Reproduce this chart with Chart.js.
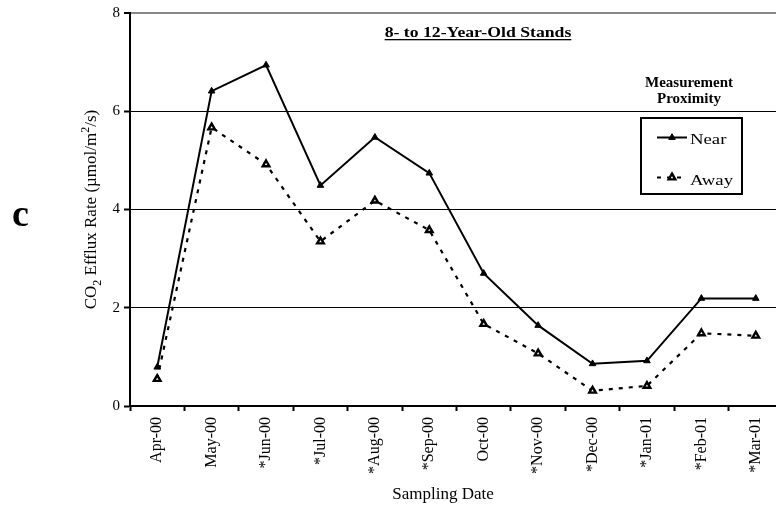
<!DOCTYPE html>
<html>
<head>
<meta charset="utf-8">
<script src="https://cdn.jsdelivr.net/npm/chart.js@4"></script>
<style>
  html, body { margin: 0; padding: 0; background: #fff; overflow: hidden; }
  #wrap { width: 790px; height: 506px; }
</style>
</head>
<body>
<div id="wrap"><canvas id="c" width="790" height="506"></canvas></div>
<script>
// Sampling dates (asterisk marks the flagged sampling months)
const months = ['Apr-00', 'May-00', '*Jun-00', '*Jul-00', '*Aug-00', '*Sep-00',
                'Oct-00', '*Nov-00', '*Dec-00', '*Jan-01', '*Feb-01', '*Mar-01'];
// CO2 efflux, umol/m2/s
const nearValues = [0.79, 6.41, 6.94, 4.49, 5.47, 4.74, 2.70, 1.64, 0.86, 0.92, 2.19, 2.19];
const awayValues = [0.55, 5.67, 4.92, 3.35, 4.18, 3.58, 1.67, 1.07, 0.31, 0.41, 1.48, 1.43];
const yTicks = [0, 2, 4, 6, 8];

const SERIF = '"Liberation Serif", "Times New Roman", serif';

// Text drawn around the plot: panel letter, axis titles, heading and legend box
const annotations = {
  id: 'annotations',
  afterDraw(chart) {
    const ctx = chart.ctx;
    const area = chart.chartArea;
    ctx.save();
    ctx.fillStyle = '#000';
    ctx.strokeStyle = '#000';

    // panel letter
    ctx.font = 'bold 38px ' + SERIF;
    ctx.textAlign = 'left';
    ctx.textBaseline = 'alphabetic';
    ctx.fillText('c', 12, 226);

    // y axis title with sub/superscripts
    ctx.save();
    const cy = (area.top + area.bottom) / 2;
    ctx.translate(96, cy);
    ctx.rotate(-Math.PI / 2);
    const parts = [
      ['CO', 17, 0], ['2', 12, 5], [' Efflux Rate (\u00b5mol/m', 17, 0],
      ['2', 12, -7], ['/s)', 17, 0]
    ];
    let total = 0;
    for (const p of parts) { ctx.font = p[1] + 'px ' + SERIF; total += ctx.measureText(p[0]).width; }
    let x = -total / 2;
    ctx.textAlign = 'left';
    for (const p of parts) {
      ctx.font = p[1] + 'px ' + SERIF;
      ctx.fillText(p[0], x, p[2]);
      x += ctx.measureText(p[0]).width;
    }
    ctx.restore();

    // x axis title
    ctx.font = '17px ' + SERIF;
    ctx.textAlign = 'center';
    ctx.fillText('Sampling Date', 443, 499);

    // heading, bold and underlined
    ctx.font = 'bold 15px ' + SERIF;
    ctx.save();
    ctx.translate(478, 37);
    ctx.scale(1.18, 1);
    ctx.textAlign = 'center';
    const head = '8- to 12-Year-Old Stands';
    const hw = ctx.measureText(head).width;
    ctx.fillText(head, 0, 0);
    ctx.fillRect(-hw / 2, 2, hw, 1.3);
    ctx.restore();

    // legend heading
    ctx.font = 'bold 15px ' + SERIF;
    ctx.textAlign = 'center';
    ctx.fillText('Measurement', 689, 87);
    ctx.fillText('Proximity', 689, 103);

    // legend box
    ctx.lineWidth = 2;
    ctx.strokeRect(641, 118, 101, 76);

    // legend samples
    const dsets = chart.data.datasets;
    const rows = [[dsets[0], 137.5, 'Near', 144], [dsets[1], 177.5, 'Away', 185]];
    for (const r of rows) {
      const ds = r[0];
      ctx.save();
      ctx.lineWidth = ds.borderWidth;
      ctx.setLineDash(ds.borderDash || []);
      ctx.beginPath();
      ctx.moveTo(657, r[1]);
      ctx.lineTo(687, r[1]);
      ctx.stroke();
      ctx.restore();
      ctx.save();
      ctx.fillStyle = ds.pointBackgroundColor;
      ctx.lineWidth = ds.pointBorderWidth;
      Chart.helpers.drawPoint(ctx, {
        pointStyle: 'triangle', radius: ds.pointRadius, rotation: 0,
        borderWidth: ds.pointBorderWidth
      }, 672, r[1]);
      ctx.restore();
      ctx.save();
      ctx.font = '15px ' + SERIF;
      ctx.textAlign = 'left';
      ctx.translate(690, r[3]);
      ctx.scale(1.25, 1);
      ctx.fillText(r[2], 0, 0);
      ctx.restore();
    }
    ctx.restore();
  }
};

new Chart(document.getElementById('c'), {
  type: 'line',
  data: {
    labels: months,
    datasets: [
      {
        label: 'Near',
        data: nearValues,
        borderColor: '#000',
        borderWidth: 2,
        pointStyle: 'triangle',
        pointRadius: 3.8,
        pointBackgroundColor: '#000',
        pointBorderColor: '#000',
        pointBorderWidth: 1,
        tension: 0
      },
      {
        label: 'Away',
        data: awayValues,
        borderColor: '#000',
        borderWidth: 2.2,
        borderDash: [4, 6],
        pointStyle: 'triangle',
        pointRadius: 3.8,
        pointBackgroundColor: '#fff',
        pointBorderColor: '#000',
        pointBorderWidth: 2.4,
        tension: 0
      }
    ]
  },
  options: {
    responsive: false,
    animation: false,
    layout: { padding: { top: 10, right: 7, left: 0, bottom: 0 } },
    plugins: {
      legend: { display: false },
      tooltip: { enabled: false }
    },
    scales: {
      x: {
        offset: true,
        afterFit(scale) { scale.height = 100; },
        grid: {
          offset: true,
          drawOnChartArea: false,
          drawTicks: true,
          tickLength: 5,
          tickWidth: 2,
          color: '#000'
        },
        border: { color: '#000', width: 2 },
        ticks: {
          minRotation: 90,
          maxRotation: 90,
          autoSkip: false,
          padding: 6,
          color: '#000',
          font: { family: SERIF, size: 16 }
        }
      },
      y: {
        min: 0,
        max: 8,
        afterFit(scale) { scale.width = 130; },
        afterBuildTicks(scale) { scale.ticks = yTicks.map(v => ({ value: v })); },
        grid: {
          color: c => (c.tick && c.tick.value === 8) ? '#888' : '#000',
          lineWidth: c => (c.tick && c.tick.value === 8) ? 2 : 1,
          tickColor: '#000',
          tickWidth: 2,
          tickLength: 6
        },
        border: { color: '#000', width: 2 },
        ticks: {
          padding: 4,
          color: '#000',
          font: { family: SERIF, size: 15 }
        }
      }
    }
  },
  plugins: [annotations]
});
</script>
</body>
</html>
